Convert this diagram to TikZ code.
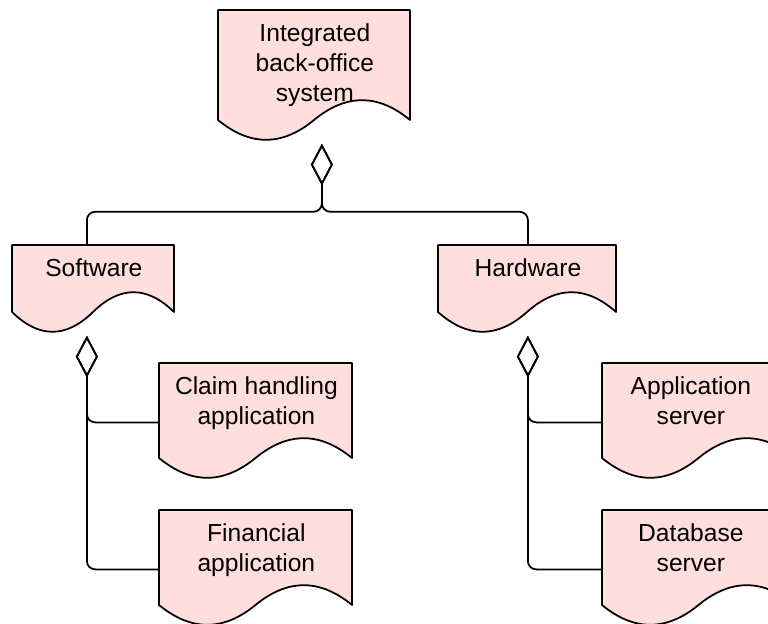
\documentclass[tikz,border=0pt]{standalone}
\usepackage{fontspec}
\setmainfont{Liberation Sans}
\usetikzlibrary{arrows.meta,calc,backgrounds}
\definecolor{docpink}{HTML}{FFDEDE}

\begin{document}
\begin{tikzpicture}[x=0.03cm, y=-0.03cm, line width=1.5pt,
    doc/.style={rectangle, inner sep=0pt, anchor=north west, align=center,
      font=\fontsize{21}{25.6}\selectfont},
    oneline/.style={text height=0.915cm, text depth=1.755cm},
    twolines/.style={text height=1.815cm, text depth=1.695cm},
    docline/.style={draw=black, fill=docpink, line width=1.5pt, line join=round},
    agg/.style={arrows={Diamond[open,length=1.25cm,width=0.66cm]-}, rounded corners=0.25cm}]
                \useasboundingbox (0,0) rectangle (768,623);

                \node[doc, minimum width=5.76cm, text height=2.715cm, text depth=1.245cm] (top) at (218,10) {Integrated\\back-office\\system};
                \node[doc, oneline, minimum width=4.86cm] (soft) at (12,245) {Software};
                \node[doc, oneline, minimum width=5.34cm] (hard) at (438,245) {Hardware};
                \node[doc, twolines, minimum width=5.79cm] (claim) at (159,363) {Claim handling\\application};
                \node[doc, twolines, minimum width=5.79cm] (fin) at (159,510) {Financial\\application};
                \node[doc, twolines, minimum width=5.28cm] (apps) at (602,363) {Application\\server};
                \node[doc, twolines, minimum width=5.28cm] (dbs) at (602,510) {Database\\server};

                \begin{scope}[on background layer]
                \clip (0,0) rectangle (768,623);
                \foreach \n/\w/\s in {top/192/110, soft/162/67, hard/178/67, claim/193/95, fin/193/95, apps/193/95, dbs/193/95}
                    \draw[docline] (\n.north west) -- ++(\w,0) -- ++(0,\s)
                        .. controls +(-\w/6,-26.4) and +(\w/6,-26.4) .. ++(-\w/2,0)
                        .. controls +(-\w/6,26.4) and +(\w/6,26.4) .. ++(-\w/2,0) -- cycle;
                \end{scope}

                \draw[agg] ($(top.south)+(7,0)$) -- ++(0,68) -| ($(soft.north)+(-7,0)$);
                \draw[agg] ($(top.south)+(7,0)$) -- ++(0,68) -| (hard.north);
                \draw[agg] ($(soft.south)+(-7,0)$) |- (claim.west);
                \draw[agg] ($(soft.south)+(-7,0)$) |- (fin.west);
                \draw[agg] (hard.south) |- (apps.west);
                \draw[agg] (hard.south) |- (dbs.west);
            \end{tikzpicture}
\end{document}
